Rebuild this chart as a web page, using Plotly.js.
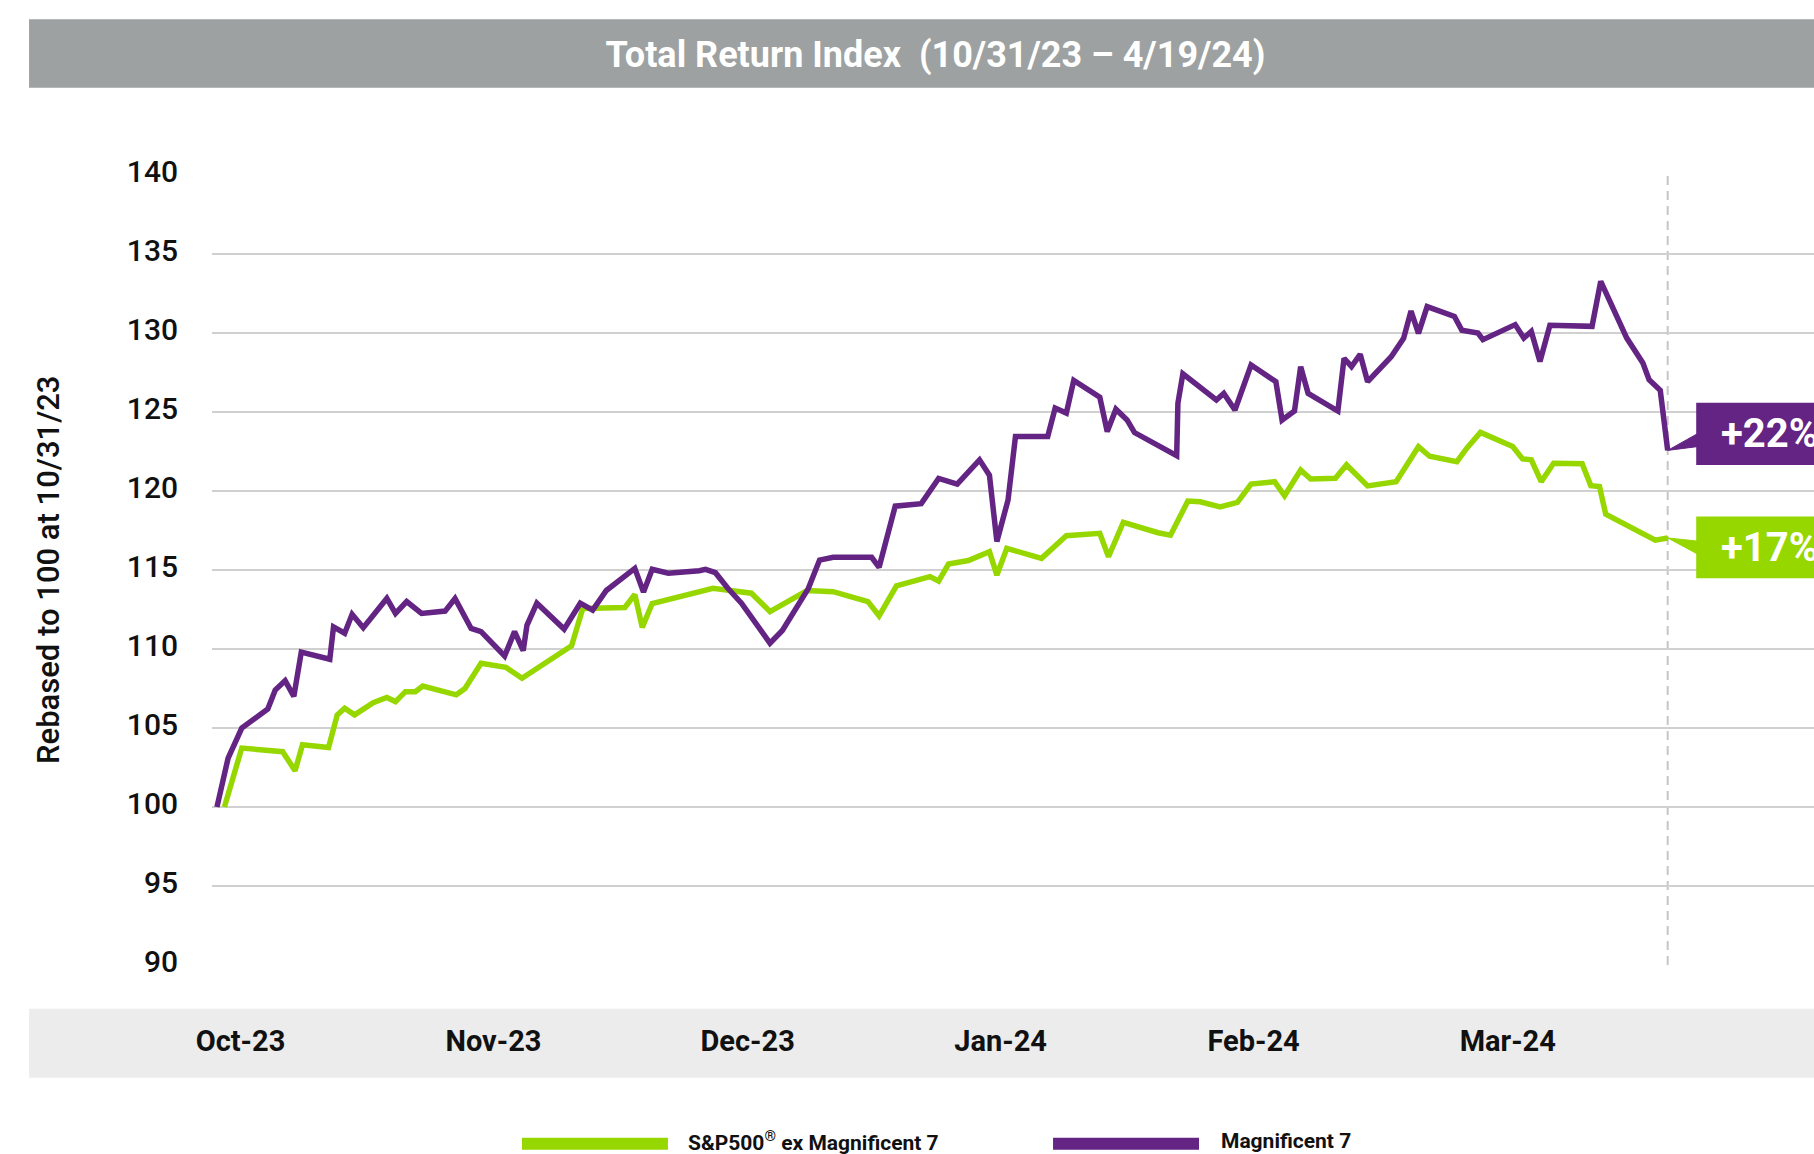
<!DOCTYPE html>
<html>
<head>
<meta charset="utf-8">
<script src="https://cdn.plot.ly/plotly-3.0.1.min.js"></script>
<style>
  html, body { margin: 0; padding: 0; background: #ffffff; }
  #chart { width: 1814px; height: 1154px; }
</style>
</head>
<body>
<div id="chart"></div>
<script>
// ---- Data (x = trading days since 10/31/23, y = index rebased to 100) ----
const magDays = [0, 0.9, 2.0, 4.1, 4.7, 5.5, 6.2, 6.8, 9.1, 9.4, 10.3, 10.9, 11.8, 13.7, 14.4, 15.3, 16.5, 18.4, 19.2,
  20.5, 21.3, 23.2, 24.0, 24.7, 25.0, 25.8, 28.0, 29.3, 30.3, 31.4, 33.7, 34.4, 35.1, 36.4, 38.9, 39.4, 40.2, 41.2,
  42.3, 43.5, 44.6, 45.6, 47.7, 48.6, 49.7, 52.8, 53.4, 54.7, 56.8, 58.2, 59.7, 61.5, 62.3, 62.9, 63.8, 64.4, 67.0,
  67.6, 68.5, 69.1, 71.2, 71.8, 72.5, 73.4, 74.0, 77.4, 77.5, 77.9, 80.6, 81.2, 82.1, 83.4, 85.4, 85.9, 86.9, 87.4,
  88.0, 90.4, 90.9, 91.5, 92.2, 92.8, 94.7, 95.7, 96.3, 96.9, 97.6, 99.8, 100.4, 101.7, 102.1, 104.7, 105.4, 106.0,
  106.7, 107.5, 110.9, 111.6, 113.7, 115.0, 115.5, 116.4, 117.0];
const magVals = [100, 103.1, 105.0, 106.2, 107.4, 108.0, 107.0, 109.8, 109.35, 111.4, 111.0, 112.2, 111.35, 113.2, 112.25,
  113.0, 112.25, 112.4, 113.2, 111.3, 111.1, 109.56, 111.1, 109.9, 111.5, 112.9, 111.26, 112.9, 112.46, 113.7, 115.1,
  113.6, 115.05, 114.8, 114.95, 115.04, 114.83, 113.84, 112.9, 111.6, 110.37, 111.17, 113.84, 115.63, 115.8, 115.8,
  115.17, 119.04, 119.2, 120.8, 120.44, 121.97, 121.0, 116.8, 119.43, 123.45, 123.45, 125.25, 124.93, 127.0, 125.94,
  123.76, 125.18, 124.5, 123.7, 122.24, 125.56, 127.42, 125.76, 126.18, 125.13, 127.97, 126.92, 124.49, 125.06, 127.87,
  126.18, 125.06, 128.4, 127.87, 128.65, 126.92, 128.5, 129.66, 131.39, 129.98, 131.67, 131.05, 130.17, 130.0, 129.58,
  130.53, 129.68, 130.1, 128.2, 130.49, 130.42, 133.27, 129.68, 128.1, 127.05, 126.37, 122.57];

const spxDays = [0.6, 1.6, 2.0, 5.3, 6.3, 6.9, 9.0, 9.7, 10.3, 11.1, 12.6, 13.7, 14.4, 15.2, 16.0, 16.6, 19.3, 20.0,
  21.3, 23.3, 24.6, 28.6, 29.5, 32.9, 33.7, 34.3, 35.1, 40.0, 41.2, 43.1, 44.6, 47.6, 49.7, 52.5, 53.4, 54.8, 57.5,
  58.2, 59.0, 60.6, 62.3, 62.9, 63.7, 66.5, 68.5, 71.2, 71.9, 73.1, 75.9, 76.9, 78.3, 79.3, 80.9, 82.3, 83.4, 85.3,
  86.1, 87.4, 88.2, 90.2, 91.1, 92.8, 95.1, 96.9, 97.8, 100.0, 100.8, 101.9, 104.5, 105.3, 106.0, 106.8, 107.8, 110.1,
  110.8, 111.5, 112.0, 116.0, 117.0];
const spxVals = [100, 102.8, 103.73, 103.5, 102.3, 103.94, 103.77, 105.83, 106.25, 105.83, 106.6, 106.93, 106.67, 107.3,
  107.3, 107.66, 107.1, 107.5, 109.1, 108.84, 108.15, 110.2, 112.57, 112.63, 113.45, 111.37, 112.88, 113.84, 113.7,
  113.53, 112.37, 113.7, 113.63, 113.0, 112.1, 114.0, 114.58, 114.3, 115.38, 115.6, 116.16, 114.68, 116.37, 115.74,
  117.17, 117.32, 115.84, 118.02, 117.36, 117.2, 119.36, 119.32, 119.0, 119.28, 120.44, 120.59, 119.7, 121.33, 120.76,
  120.8, 121.65, 120.32, 120.59, 122.8, 122.2, 121.86, 122.71, 123.71, 122.82, 122.03, 121.97, 120.59, 121.76, 121.72,
  120.34, 120.28, 118.54, 116.89, 117.03];

const monthTickDays = [1.9, 22.3, 42.8, 63.2, 83.6, 104.1];
const monthTickLabels = ['Oct-23', 'Nov-23', 'Dec-23', 'Jan-24', 'Feb-24', 'Mar-24'];
const yTickVals = [90, 95, 100, 105, 110, 115, 120, 125, 130, 135, 140];
const seriesNames = ['S&P500<sup>®</sup> ex Magnificent 7', 'Magnificent 7'];
const endLabels = ['+17%', '+22%'];

// ---- Styling ----
const PURPLE = '#632483';
const GREEN = '#97d700';
const FONT = 'Roboto, "Noto Sans", Arial, sans-serif';

const lastMagX = magDays[magDays.length - 1];
const lastMagY = magVals[magVals.length - 1];
const lastSpxX = spxDays[spxDays.length - 1];
const lastSpxY = spxVals[spxVals.length - 1];

const traces = [
  { x: spxDays, y: spxVals, type: 'scatter', mode: 'lines', name: 'S&P500® ex Magnificent 7',
    line: { color: GREEN, width: 5.5 }, hoverinfo: 'skip' },
  { x: magDays, y: magVals, type: 'scatter', mode: 'lines', name: 'Magnificent 7',
    line: { color: PURPLE, width: 5.5 }, hoverinfo: 'skip' }
];

const boxX0 = 119.3;
const shapes = [
  // title banner
  { type: 'rect', xref: 'paper', yref: 'paper', x0: -0.1142, x1: 1.02, y0: 1.1105, y1: 1.197,
    fillcolor: '#9ea1a1', line: { width: 0 }, layer: 'below' },
  // x-axis band
  { type: 'rect', xref: 'paper', yref: 'paper', x0: -0.1142, x1: 1.02, y0: -0.1427, y1: -0.0553,
    fillcolor: '#ebeceb', line: { width: 0 }, layer: 'below' },
  // dashed end-date line
  { type: 'line', xref: 'x', yref: 'y', x0: lastMagX, x1: lastMagX, y0: 90, y1: 140,
    line: { color: '#c6c6c6', width: 2, dash: '9px,6px' }, layer: 'below' },
  // end label boxes
  { type: 'rect', xref: 'x', yref: 'y', x0: boxX0, x1: 140, y0: 121.64, y1: 125.59,
    fillcolor: PURPLE, line: { width: 0 } },
  { type: 'rect', xref: 'x', yref: 'y', x0: boxX0, x1: 140, y0: 114.47, y1: 118.39,
    fillcolor: GREEN, line: { width: 0 } },
  // pointers
  { type: 'path', xref: 'x', yref: 'y',
    path: `M ${lastMagX},${lastMagY} L ${boxX0 + 0.2},123.67 L ${boxX0 + 0.2},122.82 Z`,
    fillcolor: PURPLE, line: { color: PURPLE, width: 1 } },
  { type: 'path', xref: 'x', yref: 'y',
    path: `M ${lastSpxX},${lastSpxY} L ${boxX0 + 0.2},116.82 L ${boxX0 + 0.2},115.97 Z`,
    fillcolor: GREEN, line: { color: GREEN, width: 1 } },
  // legend swatches
  { type: 'rect', xref: 'paper', yref: 'paper', x0: 0.1935, x1: 0.2846, y0: -0.2339, y1: -0.2186,
    fillcolor: GREEN, line: { width: 0 } },
  { type: 'rect', xref: 'paper', yref: 'paper', x0: 0.525, x1: 0.6161, y0: -0.2339, y1: -0.2186,
    fillcolor: PURPLE, line: { width: 0 } }
];

const annotations = [
  { text: 'Rebased to 100 at 10/31/23', xref: 'paper', yref: 'paper', x: -0.1024, y: 0.5,
    xanchor: 'center', yanchor: 'middle', textangle: -90, showarrow: false,
    font: { family: FONT, size: 31, weight: 500, color: '#111111' } },
  { text: endLabels[1], xref: 'x', yref: 'y', x: 121.1, y: 123.62, xanchor: 'left', yanchor: 'middle',
    showarrow: false, font: { family: FONT, size: 40, weight: 700, color: '#ffffff' } },
  { text: endLabels[0], xref: 'x', yref: 'y', x: 121.1, y: 116.43, xanchor: 'left', yanchor: 'middle',
    showarrow: false, font: { family: FONT, size: 40, weight: 700, color: '#ffffff' } },
  { text: seriesNames[0], xref: 'paper', yref: 'paper', x: 0.2959, y: -0.2232, xanchor: 'left', yanchor: 'middle',
    showarrow: false, font: { family: FONT, size: 21, weight: 700, color: '#111111' } },
  { text: seriesNames[1], xref: 'paper', yref: 'paper', x: 0.6286, y: -0.2232, xanchor: 'left', yanchor: 'middle',
    showarrow: false, font: { family: FONT, size: 21, weight: 700, color: '#111111' } }
];

const layout = {
  width: 1814, height: 1154,
  margin: { l: 212, r: 0, t: 175, b: 189, pad: 0 },
  paper_bgcolor: '#ffffff', plot_bgcolor: '#ffffff',
  showlegend: false,
  title: {
    text: 'Total Return Index\u00a0 (10/31/23 \u2013 4/19/24)',
    font: { family: FONT, size: 36, weight: 700, color: '#ffffff' },
    xref: 'container', yref: 'container', x: 0.5157, y: 0.9532, xanchor: 'center', yanchor: 'middle'
  },
  xaxis: {
    range: [-0.4, 128.8], showgrid: false, zeroline: false, showline: false,
    tickmode: 'array', tickvals: monthTickDays, ticktext: monthTickLabels,
    ticks: 'outside', ticklen: 50, tickcolor: 'rgba(0,0,0,0)',
    tickfont: { family: FONT, size: 29, weight: 700, color: '#111111' }
  },
  yaxis: {
    range: [90, 140], showgrid: true, gridcolor: '#d0d0d0', gridwidth: 2.5,
    zeroline: false, showline: false,
    tickmode: 'array', tickvals: yTickVals,
    ticks: 'outside', ticklen: 27, tickcolor: 'rgba(0,0,0,0)', ticklabelshift: -4,
    tickfont: { family: FONT, size: 30, weight: 500, color: '#111111' }
  },
  shapes: shapes,
  annotations: annotations
};

Plotly.newPlot('chart', traces, layout, { staticPlot: true, displayModeBar: false });
</script>
</body>
</html>
